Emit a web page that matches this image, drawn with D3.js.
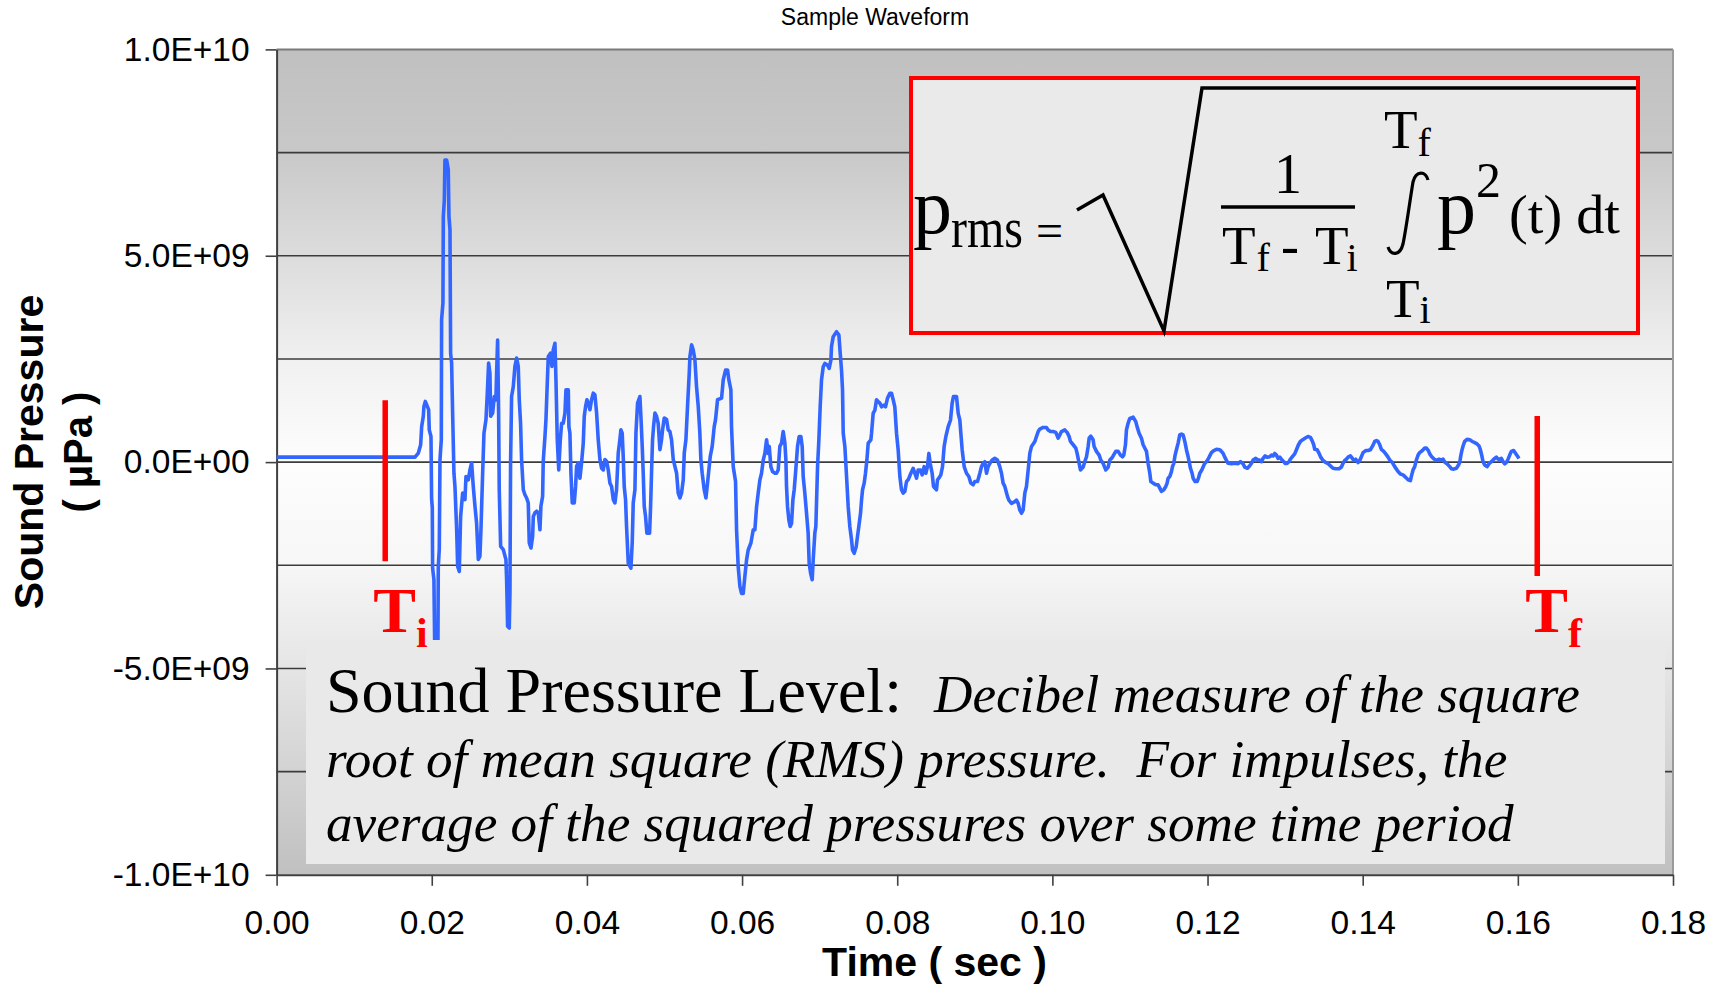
<!DOCTYPE html>
<html>
<head>
<meta charset="utf-8">
<script src="https://cdn.jsdelivr.net/npm/d3@7"></script>
<style>
  html, body { margin: 0; padding: 0; background: #ffffff; }
  svg { display: block; }
</style>
</head>
<body>
<svg id="chart" width="1721" height="986"></svg>
<script>
// ---- Data -----------------------------------------------------------------
// Waveform samples as [time in ms, sound pressure in units of 1E9 µPa].
const onsetBurst = [
  [0,0.12],[17.84,0.12],[18.27,0.22],[18.57,0.42],[18.70,0.86],[18.91,1.11],[18.99,1.35],[19.17,1.47],
  [19.43,1.35],[19.60,1.27],[19.68,0.78],[19.90,0.62],[19.98,-0.87],[20.07,-1.11],[20.11,-2.57],[20.28,-2.85],
  [20.37,-4.30],[20.54,-5.60],[20.67,-5.60],[20.80,-4.30],[20.84,-2.53],[20.97,-2.12],[21.06,0.06],[21.23,0.54],
  [21.27,3.45],[21.44,3.85],[21.49,5.95],[21.62,6.35],[21.70,7.32],[21.92,7.32],[22.13,7.08],[22.22,5.95],
  [22.35,5.63],[22.43,2.64],[22.56,2.40],[22.69,1.19],[22.86,-0.27],[22.99,-0.59],[23.21,-1.64],[23.34,-2.53],
  [23.55,-2.65],[23.72,-1.32],[23.98,-0.75],[24.28,-0.91],[24.41,-0.35],[24.71,-0.43],[24.92,-0.19],[25.14,-0.02],
  [25.35,-0.59],[25.57,-1.07],[25.78,-1.48],[26.00,-2.36],[26.21,-2.28],[26.34,-1.64],[26.56,-0.27],[26.73,0.70],
  [26.99,1.03],[27.16,1.67],[27.33,2.40],[27.50,2.15],[27.59,1.11],[27.85,1.19],[28.06,1.59],[28.27,1.51],
  [28.36,2.15],[28.49,2.96],[28.62,1.19],[28.70,-0.67],[28.88,-2.04],[29.22,-2.12],[29.56,-2.36],[29.65,-2.85],
  [29.78,-3.98],[29.99,-4.02],[30.08,-3.17],[30.16,-0.02],[30.29,1.59],[30.51,1.83],[30.72,2.32],[30.94,2.52],
  [31.15,2.32],[31.28,1.51],[31.45,0.94],[31.58,0.06],[31.80,-0.67],[32.01,-0.79],[32.23,-0.87],[32.44,-0.99],
  [32.57,-1.96],[32.79,-2.08],[33.00,-1.80],[33.09,-1.32],[33.30,-1.23],[33.52,-1.19],[33.73,-1.23],[33.95,-1.64],
  [34.07,-1.07],[34.29,-0.83],[34.37,0.02],[34.59,0.62],[34.72,1.03],[34.89,1.91],[35.02,2.56],[35.32,2.64],
  [35.49,2.32],[35.66,2.72],[35.88,2.88],[36.01,1.99],[36.18,0.54],[36.37,-0.19]
];

const earlyDecay = [
  [36.57,0.54],[36.74,0.94],[36.95,0.94],[37.17,1.19],[37.30,1.75],[37.60,1.75],[37.68,0.86],[37.81,0.70],
  [37.94,-0.27],[38.11,-0.99],[38.37,-0.99],[38.54,-0.59],[38.67,-0.10],[38.89,-0.02],[39.10,-0.39],[39.31,-0.02],
  [39.53,0.46],[39.66,1.11],[39.83,1.35],[40.00,1.51],[40.17,1.43],[40.39,1.27],[40.60,1.51],[40.82,1.67],
  [41.03,1.63],[41.25,1.19],[41.46,0.54],[41.68,0.06],[41.89,-0.15],[42.11,-0.19],[42.32,0.06],[42.54,0.02],
  [42.75,-0.19],[42.97,-0.51],[43.18,-0.59],[43.40,-0.91],[43.61,-0.99],[43.82,-0.67],[44.04,0.22],[44.25,0.54],
  [44.38,0.78],[44.55,0.70],[44.68,0.14],[44.81,-0.59],[44.98,-0.91],[45.11,-1.56],[45.33,-2.45],[45.67,-2.57],
  [45.84,-1.96],[45.97,-0.99],[46.19,-0.67],[46.32,0.70],[46.53,1.43],[46.83,1.59],[46.96,1.11],[47.13,0.38],
  [47.26,-0.27],[47.39,-1.07],[47.56,-1.32],[47.73,-1.72],[48.08,-1.72],[48.21,-1.07],[48.34,-0.19],[48.46,0.54],
  [48.59,0.86],[48.77,1.19],[48.98,1.11],[49.19,0.94],[49.41,0.30],[49.62,0.54],[49.75,0.78],[49.97,1.07],
  [50.27,1.03],[50.48,0.78],[50.70,0.74],[50.91,0.54],[51.13,0.06],[51.34,-0.10],[51.56,-0.27],[51.77,-0.75],
  [51.99,-0.87],[52.20,-0.75],[52.42,-0.43],[52.55,0.22],[52.76,0.54],[52.97,1.35],[53.19,2.15],[53.28,2.56],
  [53.49,2.84],[53.70,2.72],[53.92,2.48],[54.13,1.83],[54.35,1.35],[54.56,0.70],[54.69,0.06],[54.86,-0.27],
  [55.12,-0.67],[55.34,-0.87],[55.55,-0.51],[55.72,-0.19],[55.90,0.14],[56.15,0.38],[56.41,0.86],[56.58,1.03],
  [56.84,1.51]
];

const midDecay = [
  [57.36,1.55],[57.57,1.99],[57.87,2.23],[58.13,2.23],[58.30,1.99],[58.56,1.75],[58.64,0.86],[58.86,-0.11],
  [59.16,-0.47],[59.29,-1.64],[59.50,-2.53],[59.72,-3.01],[59.93,-3.18],[60.15,-3.18],[60.36,-2.77],[60.58,-2.37],
  [60.79,-2.13],[61.14,-1.96],[61.44,-1.64],[61.65,-1.64],[61.87,-1.08],[62.08,-0.75],[62.30,-0.43],[62.51,-0.27],
  [62.73,0.05],[62.94,0.21],[63.16,0.54],[63.37,0.21],[63.50,0.38],[63.71,-0.11],[63.93,-0.23],[64.23,-0.27],
  [64.44,-0.27],[64.66,-0.19],[64.87,0.38],[65.09,0.46],[65.30,0.74],[65.52,0.46],[65.65,0.05],[65.73,-0.59],
  [65.86,-1.08],[66.03,-1.40],[66.20,-1.56],[66.38,-1.48],[66.55,-0.92],[66.72,-0.67],[66.89,-0.27],[67.15,0.38],
  [67.36,0.62],[67.58,0.62],[67.75,0.38],[67.88,-0.35],[68.09,-0.75],[68.31,-1.24],[68.52,-1.72],[68.65,-2.45],
  [68.83,-2.69],[69.04,-2.85],[69.17,-2.37],[69.38,-1.72],[69.51,-1.56],[69.73,-0.11],[69.90,0.54],[70.07,1.34],
  [70.24,1.99],[70.46,2.31],[70.67,2.39],[71.02,2.35],[71.23,2.27],[71.45,2.47],[71.53,2.80],[71.75,3.04],
  [72.18,3.16],[72.48,3.08],[72.65,2.64],[72.82,2.23],[72.95,1.75],[73.04,0.70],[73.25,0.38],[73.47,-0.35],
  [73.68,-1.08],[73.89,-1.56],[74.11,-1.88],[74.24,-2.13],[74.45,-2.21],[74.71,-2.05],[74.88,-1.80],[75.05,-1.56],
  [75.27,-1.24],[75.40,-0.92],[75.53,-0.67],[75.74,-0.51],[75.91,-0.27],[76.09,0.05],[76.26,0.46],[76.60,0.54],
  [76.69,0.70],[76.90,1.18],[77.12,1.26],[77.33,1.51],[77.54,1.47],[77.76,1.43],[77.98,1.34],[78.28,1.38],
  [78.49,1.34],[78.75,1.55],[79.05,1.67],[79.26,1.67],[79.48,1.51],[79.69,1.34],[79.91,0.70],[80.12,0.30],
  [80.34,-0.35],[80.55,-0.67],[80.77,-0.75],[80.98,-0.71],[81.20,-0.47],[81.41,-0.43],[81.76,-0.27],[82.06,-0.15],
  [82.27,-0.27],[82.49,-0.39],[82.70,-0.19],[83.00,-0.19],[83.22,-0.31],[83.47,-0.11],[83.69,-0.27],[83.90,-0.11],
  [84.08,0.21],[84.25,-0.03],[84.50,-0.27],[84.68,-0.59],[84.85,-0.63],[85.06,-0.67],[85.19,-0.43],[85.36,-0.39],
  [85.62,-0.31],[85.84,-0.11],[86.05,0.38],[86.27,0.62],[86.57,0.86],[86.87,1.02],[87.08,1.43],[87.25,1.59],
  [87.64,1.59],[87.86,1.18],[88.07,1.02],[88.20,0.70],[88.37,0.30],[88.63,-0.11],[88.93,-0.27],[89.23,-0.35],
  [89.49,-0.51],[89.79,-0.55],[90.00,-0.47],[90.35,-0.47],[90.65,-0.27],[90.86,-0.11],[91.08,-0.03],[91.29,0.01],
  [91.51,-0.27],[91.72,-0.11],[91.94,-0.03],[92.24,0.05],[92.58,0.09],[92.92,0.05],[93.22,-0.11],[93.44,-0.27],
  [93.65,-0.51],[93.87,-0.59],[94.21,-0.83],[94.39,-0.92],[94.73,-1.00],[95.16,-0.96],[95.37,-0.92],[95.59,-1.00],
  [95.80,-1.16],[96.02,-1.24],[96.23,-1.16],[96.45,-0.75],[96.66,-0.59],[96.88,-0.19],[97.09,0.21],[97.31,0.38]
];

const lateTail = [
  [97.74,0.50],[97.95,0.62],[98.17,0.74],[98.38,0.80],[98.81,0.84],[99.24,0.84],[99.45,0.78],[99.76,0.74],
  [100.10,0.74],[100.44,0.72],[100.74,0.58],[100.96,0.66],[101.17,0.74],[101.60,0.78],[101.90,0.72],[102.16,0.62],
  [102.33,0.50],[102.68,0.42],[103.02,0.34],[103.19,0.21],[103.45,-0.03],[103.62,-0.19],[103.97,-0.12],[104.18,0.01],
  [104.40,0.13],[104.61,0.38],[104.74,0.58],[104.95,0.63],[105.25,0.54],[105.38,0.38],[105.68,0.26],[106.03,0.17],
  [106.24,0.05],[106.54,-0.03],[106.89,-0.19],[107.19,-0.12],[107.40,0.05],[107.62,0.09],[107.83,0.15],[108.17,0.26],
  [108.48,0.26],[108.78,0.17],[109.03,0.13],[109.21,0.17],[109.42,0.42],[109.55,0.78],[109.76,0.94],[109.98,1.06],
  [110.41,1.09],[110.75,0.98],[110.92,0.86],[111.18,0.70],[111.48,0.58],[111.70,0.42],[111.91,0.34],[112.13,0.26],
  [112.34,-0.03],[112.56,-0.27],[112.69,-0.47],[112.99,-0.51],[113.33,-0.55],[113.63,-0.55],[113.85,-0.63],[114.06,-0.71],
  [114.36,-0.67],[114.62,-0.59],[114.79,-0.51],[114.92,-0.39],[115.13,-0.35],[115.35,-0.23],[115.48,-0.11],[115.65,-0.03],
  [115.82,0.17],[115.99,0.30],[116.21,0.46],[116.42,0.66],[116.64,0.68],[116.85,0.66],[117.07,0.50],[117.28,0.30],
  [117.50,0.13],[117.63,0.01],[117.80,-0.15],[118.01,-0.27],[118.14,-0.39],[118.40,-0.47],[118.66,-0.47],[118.83,-0.39],
  [119.00,-0.27],[119.26,-0.19],[119.43,-0.12],[119.64,-0.03],[119.86,0.01],[120.07,0.07],[120.29,0.15],[120.50,0.23],
  [120.80,0.28],[121.15,0.31],[121.58,0.30],[121.79,0.26],[122.01,0.21],[122.22,0.12],[122.44,0.04],[122.65,-0.03],
  [123.08,-0.04],[123.51,-0.03],[123.94,-0.04],[124.24,0.01],[124.58,-0.04],[124.80,-0.12],[125.14,-0.15],[125.44,-0.09],
  [125.66,-0.03],[125.87,0.05],[126.22,0.09],[126.52,0.05],[126.73,0.05],[126.95,0.01],[127.16,0.09],[127.42,0.15],
  [127.68,0.12],[128.02,0.13],[128.24,0.17],[128.45,0.15],[128.66,0.21],[128.88,0.17],[129.09,0.09],[129.31,0.12],
  [129.52,0.07],[129.83,0.01],[130.00,-0.03],[130.25,-0.03],[130.51,0.01],[130.68,0.07],[130.94,0.13],[131.24,0.20],
  [131.46,0.30],[131.72,0.42],[131.97,0.50],[132.32,0.55],[132.66,0.59],[132.96,0.62],[133.26,0.60],[133.48,0.52],
  [133.69,0.42],[133.82,0.31],[134.12,0.30],[134.38,0.21],[134.59,0.12],[134.89,0.04],[135.24,-0.01],[135.54,-0.04],
  [135.84,-0.09],[136.18,-0.15],[136.53,-0.16],[136.96,-0.16],[137.26,-0.12],[137.47,-0.03],[137.69,0.04],[137.90,0.07],
  [138.12,0.12],[138.42,0.15],[138.67,0.09],[138.85,0.04],[139.10,0.07],[139.40,-0.01],[139.62,0.04],[139.83,0.13],
  [140.05,0.23],[140.39,0.28],[140.69,0.28],[140.99,0.30],[141.25,0.38],[141.55,0.50],[141.77,0.52],[141.98,0.50],
  [142.20,0.42],[142.41,0.31],[142.71,0.26],[142.97,0.20],[143.27,0.12],[143.49,0.05],[143.83,-0.01],[144.13,-0.11],
  [144.35,-0.17],[144.56,-0.23],[144.86,-0.29],[145.20,-0.31],[145.55,-0.37],[145.85,-0.43],[146.15,-0.45],[146.28,-0.34],
  [146.49,-0.19],[146.71,-0.11],[146.92,0.05],[147.14,0.17],[147.35,0.23],[147.70,0.28],[148.00,0.34],[148.21,0.34],
  [148.47,0.28],[148.64,0.20],[148.90,0.13],[149.16,0.08],[149.50,0.04],[149.84,0.07],[150.14,0.05],[150.36,0.07],
  [150.62,-0.01],[150.87,-0.04],[151.22,-0.11],[151.43,-0.16],[151.73,-0.17],[152.08,-0.15],[152.29,-0.09],[152.51,-0.01],
  [152.64,0.15],[152.81,0.30],[152.94,0.39],[153.15,0.50],[153.45,0.55],[153.80,0.54],[154.14,0.50],[154.44,0.47],
  [154.74,0.44],[155.00,0.39],[155.17,0.30],[155.34,0.17],[155.51,0.01],[155.73,-0.07],[156.03,-0.11],[156.29,-0.04],
  [156.59,0.01],[156.89,0.07],[157.23,0.12],[157.45,0.07],[157.66,0.07],[157.87,0.09],[158.09,0.01],[158.31,-0.04],
  [158.52,-0.01],[158.74,0.07],[158.95,0.17],[159.17,0.26],[159.46,0.28],[159.72,0.21],[159.94,0.15],[160.15,0.09]
];

// Axis ticks
const xTickValues = [0, 0.02, 0.04, 0.06, 0.08, 0.10, 0.12, 0.14, 0.16, 0.18];
const yTickValues = [-1e10, -5e9, 0, 5e9, 1e10];
const yGridValues = [-7.5e9, -5e9, -2.5e9, 0, 2.5e9, 5e9, 7.5e9];

// Integration limits (time in s, bar extent in µPa)
const limitMarkers = [
  { sub: "i", t: 0.014,  top: 1.5e9,  bottom: -2.4e9 },
  { sub: "f", t: 0.1625, top: 1.12e9, bottom: -2.76e9 }
];

// ---- Layout ---------------------------------------------------------------
const W = 1721, H = 986;
const plot = { left: 276.6, top: 49.4, right: 1673, bottom: 874.8 };
const SANS = "'Liberation Sans', Arial, Helvetica, sans-serif";
const SERIF = "'Liberation Serif', 'Times New Roman', Times, serif";

const svg = d3.select("#chart");

const x = d3.scaleLinear().domain([0, 0.18]).range([plot.left, plot.right]);
const y = d3.scaleLinear().domain([-1e10, 1e10]).range([plot.bottom, plot.top]);

// Plot area background: grey at the edges, near white around the middle
const defs = svg.append("defs");
const grad = defs.append("linearGradient")
  .attr("id", "plotFill").attr("x1", 0).attr("y1", 0).attr("x2", 0).attr("y2", 1);
[[0, "#c0c0c0"], [0.12, "#c8c8c8"], [0.25, "#dcdcdc"], [0.38, "#f1f1f1"], [0.5, "#fdfdfd"],
 [0.62, "#f7f7f7"], [0.75, "#e5e5e5"], [0.88, "#d2d2d2"], [1, "#c0c0c0"]]
  .forEach(([o, c]) => grad.append("stop").attr("offset", o).attr("stop-color", c));

svg.append("rect")
  .attr("x", plot.left).attr("y", plot.top)
  .attr("width", plot.right - plot.left).attr("height", plot.bottom - plot.top)
  .attr("fill", "url(#plotFill)");

// Horizontal gridlines
svg.append("g").selectAll("line").data(yGridValues).join("line")
  .attr("x1", plot.left).attr("x2", plot.right)
  .attr("y1", d => y(d)).attr("y2", d => y(d))
  .attr("stroke", "#3c3c3c").attr("stroke-width", 1.6);

// Top and right borders of the plot area
svg.append("line").attr("x1", plot.left).attr("x2", plot.right)
  .attr("y1", plot.top).attr("y2", plot.top)
  .attr("stroke", "#7a7a7a").attr("stroke-width", 2);
svg.append("line").attr("x1", plot.right).attr("x2", plot.right)
  .attr("y1", plot.top).attr("y2", plot.bottom)
  .attr("stroke", "#9a9a9a").attr("stroke-width", 2);

// Scientific tick format, e.g. 5.0E+09
function sci(v) {
  if (v === 0) return "0.0E+00";
  const e = Math.floor(Math.log10(Math.abs(v)));
  const m = v / Math.pow(10, e);
  return m.toFixed(1) + "E" + (e < 0 ? "-" : "+") + String(Math.abs(e)).padStart(2, "0");
}

// Axes
const yAxis = svg.append("g")
  .attr("transform", `translate(${plot.left},0)`)
  .call(d3.axisLeft(y).tickValues(yTickValues).tickFormat(sci)
    .tickSize(11).tickSizeOuter(0).tickPadding(16));
const xAxis = svg.append("g")
  .attr("transform", `translate(0,${plot.bottom})`)
  .call(d3.axisBottom(x).tickValues(xTickValues).tickFormat(d3.format(".2f"))
    .tickSize(11).tickSizeOuter(0).tickPadding(24));

[yAxis, xAxis].forEach(g => {
  g.select(".domain").attr("stroke", "#404040").attr("stroke-width", 2);
  g.selectAll(".tick line").attr("stroke", "#404040").attr("stroke-width", 1.6);
  g.selectAll(".tick text").attr("fill", "#000").style("font-family", SANS).style("font-size", "33.5px");
});

// Waveform
const samples = [...onsetBurst, ...earlyDecay, ...midDecay, ...lateTail];
const line = d3.line()
  .x(d => x(d[0] / 1000))
  .y(d => y(d[1] * 1e9));
svg.append("path")
  .datum(samples)
  .attr("d", line)
  .attr("fill", "none")
  .attr("stroke", "#3366ff")
  .attr("stroke-width", 3.6)
  .attr("stroke-linejoin", "round");

// Integration limit bars
const lim = svg.append("g").selectAll("g").data(limitMarkers).join("g");
lim.append("line")
  .attr("x1", d => x(d.t)).attr("x2", d => x(d.t))
  .attr("y1", d => y(d.top)).attr("y2", d => y(d.bottom))
  .attr("stroke", "#ff0000").attr("stroke-width", 5.5);

// RMS pressure formula
const fx = svg.append("g").style("font-family", SERIF).attr("fill", "#000");
fx.append("rect").attr("x", 911).attr("y", 78).attr("width", 727).attr("height", 255)
  .attr("fill", "#eaeaea").attr("stroke", "#ff0000").attr("stroke-width", 4);
function ftext(str, px, py, size, len) {
  const t = fx.append("text").attr("x", px).attr("y", py).style("font-size", size + "px").text(str);
  if (len) t.attr("textLength", len).attr("lengthAdjust", "spacingAndGlyphs");
  return t;
}
// Symbol with a lowered subscript, written as a single text element
function fsub(main, sub, px, py, size, subSize, drop, gap) {
  const t = fx.append("text").attr("x", px).attr("y", py).style("font-size", size + "px");
  t.append("tspan").text(main);
  t.append("tspan").attr("dx", gap || 0).attr("dy", drop).style("font-size", subSize + "px").text(sub);
  return t;
}
ftext("p", 913, 233, 78);
ftext("rms", 951, 247, 58, 72);
ftext("=", 1036, 247, 48);
fx.append("path").attr("d", "M1077,210 L1103,195 L1164,331 L1202,88 L1636,88")
  .attr("fill", "none").attr("stroke", "#000").attr("stroke-width", 3.5);
ftext("1", 1288, 193, 56).attr("text-anchor", "middle");
fx.append("line").attr("x1", 1221).attr("x2", 1355).attr("y1", 207).attr("y2", 207)
  .attr("stroke", "#000").attr("stroke-width", 3.5);
fsub("T", "f", 1222, 264, 55, 40, 7, 1);
ftext("-", 1281, 264, 54);
fsub("T", "i", 1315, 264, 55, 40, 7, -2);
fx.append("path")
  .attr("d", "M1428,180 C1426,171 1416,170 1413,182 C1410,200 1406,230 1403,244 C1400,256 1391,256 1388,247")
  .attr("fill", "none").attr("stroke", "#000").attr("stroke-width", 3.2);
fsub("T", "f", 1384, 148, 55, 40, 8, 0);
fsub("T", "i", 1386, 317, 55, 40, 6, 0);
ftext("p", 1437, 233, 78);
ftext("2", 1476, 197, 50);
ftext("(t) dt", 1509, 233, 54, 111);

// Definition text box
const tb = svg.append("g");
tb.append("rect").attr("x", 306).attr("y", 640).attr("width", 1359).attr("height", 224)
  .attr("fill", "#e9e9e9");
tb.append("text").attr("x", 326).attr("y", 712)
  .style("font-family", SERIF).style("font-size", "64px").text("Sound Pressure Level:");
const italicLines = [
  { x: 934, y: 712, s: "Decibel measure of the square" },
  { x: 326, y: 777, s: "root of mean square (RMS) pressure.  For impulses, the" },
  { x: 326, y: 841, s: "average of the squared pressures over some time period" }
];
tb.selectAll("text.def").data(italicLines).join("text").attr("class", "def")
  .attr("x", d => d.x).attr("y", d => d.y)
  .style("font-family", SERIF).style("font-style", "italic").style("font-size", "53.2px")
  .style("white-space", "pre").attr("xml:space", "preserve")
  .text(d => d.s);

// Limit labels sit above the text box
const limLabel = svg.append("g").selectAll("text").data(limitMarkers).join("text")
  .attr("x", d => x(d.t) - 12).attr("y", 631.5)
  .attr("fill", "#ff0000")
  .style("font-family", SERIF).style("font-weight", "bold").style("font-size", "64px");
limLabel.append("tspan").text("T");
limLabel.append("tspan").attr("dy", 15).style("font-size", "42px").text(d => d.sub);

// Titles
svg.append("text").attr("x", 875).attr("y", 25).attr("text-anchor", "middle")
  .style("font-family", SANS).style("font-size", "23px").text("Sample Waveform");
svg.append("text").attr("x", 934.5).attr("y", 976).attr("text-anchor", "middle")
  .style("font-family", SANS).style("font-weight", "bold").style("font-size", "41px")
  .text("Time ( sec )");
svg.append("text").attr("transform", "translate(43,452) rotate(-90)").attr("text-anchor", "middle")
  .style("font-family", SANS).style("font-weight", "bold").style("font-size", "41px")
  .text("Sound Pressure");
svg.append("text").attr("transform", "translate(92,452) rotate(-90)").attr("text-anchor", "middle")
  .style("font-family", SANS).style("font-weight", "bold").style("font-size", "40px")
  .text("( µPa )");
</script>
</body>
</html>
